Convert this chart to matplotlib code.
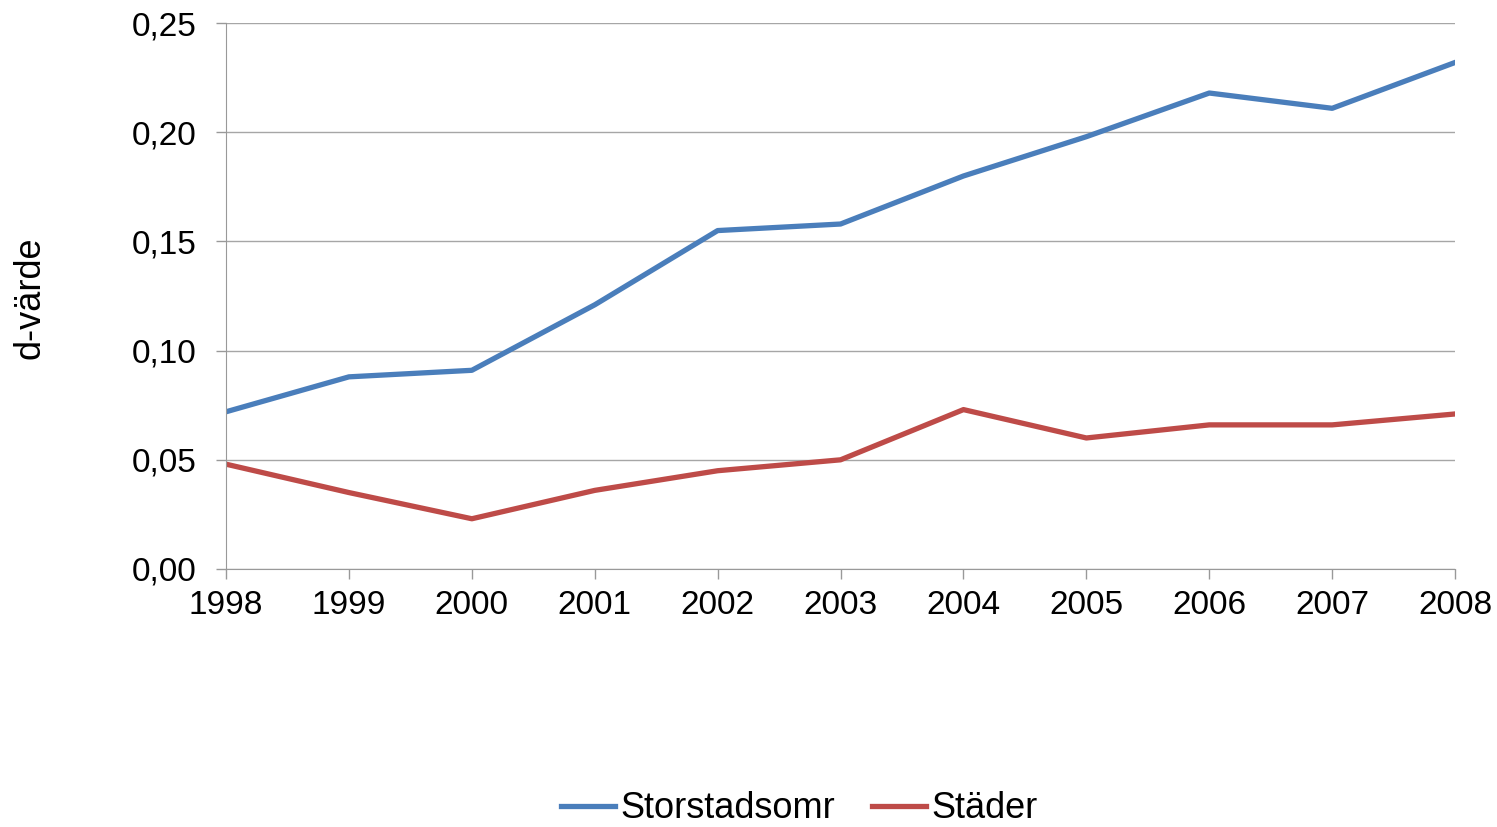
import matplotlib.pyplot as plt

# Data
years = [1998, 1999, 2000, 2001, 2002, 2003, 2004, 2005, 2006, 2007, 2008]
storstad = [0.072, 0.088, 0.091, 0.121, 0.155, 0.158, 0.180, 0.198, 0.218, 0.211, 0.232]
stader = [0.048, 0.035, 0.023, 0.036, 0.045, 0.050, 0.073, 0.060, 0.066, 0.066, 0.071]
yticks = [0.00, 0.05, 0.10, 0.15, 0.20, 0.25]

plt.rcParams['font.family'] = ['Liberation Sans', 'DejaVu Sans']

fig = plt.figure(figsize=(14.97, 8.27), dpi=100)
ax = fig.add_axes([0.151, 0.312, 0.821, 0.66])

ax.plot(years, storstad, color='#4A7EBB', linewidth=3.8, label='Storstadsomr')
ax.plot(years, stader, color='#BE4B48', linewidth=3.8, label='Städer')

ax.set_xlim(1998, 2008)
ax.set_ylim(0, 0.25)
ax.set_xticks(years)
ax.set_yticks(yticks)
ax.set_yticklabels([f'{v:.2f}'.replace('.', ',') for v in yticks])
ax.tick_params(axis='both', labelsize=24, color='#999999', length=7, width=1)
ax.tick_params(axis='x', pad=8)
ax.tick_params(axis='y', pad=14)

ax.grid(axis='y', color='#A6A6A6', linewidth=1)
ax.set_axisbelow(True)
for side in ['top', 'right']:
    ax.spines[side].set_visible(False)
for side in ['left', 'bottom']:
    ax.spines[side].set_color('#999999')

fig.text(30 / 1497, 0.640, 'd-värde', fontsize=26, rotation=90, ha='center', va='center')

fig.legend(loc='center', bbox_to_anchor=(0.534, 0.022), ncol=2, frameon=False,
           fontsize=26, handlelength=1.5, handletextpad=0.15, columnspacing=1.0)

fig.savefig('out.png', dpi=100)
